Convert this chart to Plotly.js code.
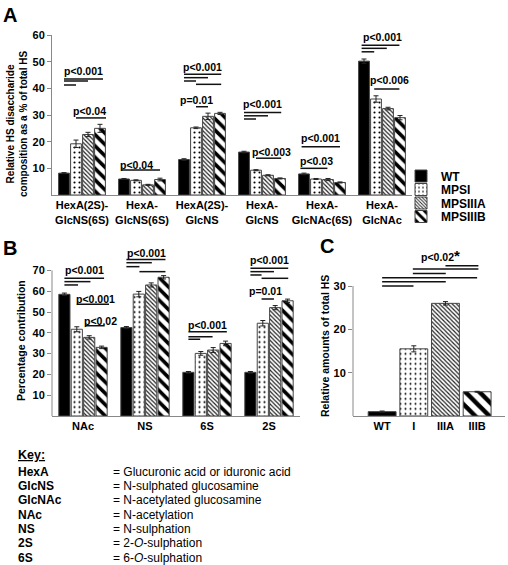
<!DOCTYPE html>
<html><head><meta charset="utf-8">
<script src="https://cdn.plot.ly/plotly-3.0.1.min.js"></script>
<style>html,body{margin:0;padding:0;background:#fff}#chart{width:508px;height:565px}</style>
</head><body><div id="chart"></div>
<script>
// ---------- DATA ----------
const seriesNames = ['WT', 'MPSI', 'MPSIIIA', 'MPSIIIB'];

const catsA = ['HexA(2S)-<br>GlcNS(6S)', 'HexA-<br>GlcNS(6S)', 'HexA(2S)-<br>GlcNS', 'HexA-<br>GlcNS', 'HexA-<br>GlcNAc(6S)', 'HexA-<br>GlcNAc'];
const wtA    = [8.2, 6.0, 13.3, 16.1, 7.9, 50.2];
const mpsiA  = [19.2, 5.5, 25.2, 9.3, 6.0, 36.0];
const iiiaA  = [22.7, 3.8, 29.5, 7.4, 5.8, 32.4];
const iiibA  = [25.0, 5.8, 30.6, 6.2, 4.7, 29.0];
const wtAErr   = [0.2, 0.2, 0.3, 0.3, 0.3, 0.8];
const mpsiAErr = [1.4, 0.2, 0.3, 0.2, 0.2, 1.2];
const iiiaAErr = [0.8, 0.2, 1.2, 0.2, 0.4, 0.5];
const iiibAErr = [1.5, 0.5, 0.4, 0.2, 0.2, 0.8];

const catsB = ['NAc', 'NS', '6S', '2S'];
const wtB    = [58.5, 42.5, 21.0, 21.0];
const mpsiB  = [41.7, 58.6, 30.1, 44.6];
const iiiaB  = [37.8, 63.0, 31.7, 52.1];
const iiibB  = [33.0, 66.7, 34.9, 55.4];
const wtBErr   = [0.6, 0.5, 0.4, 0.4];
const mpsiBErr = [1.2, 1.3, 0.9, 1.3];
const iiiaBErr = [0.8, 1.0, 1.2, 1.0];
const iiibBErr = [0.6, 0.8, 1.1, 0.8];

const catsC = ['WT', 'I', 'IIIA', 'IIIB'];
const valsC = [1.0, 15.5, 26.0, 5.6];
const errC  = [0.15, 0.7, 0.4, 0.1];

const ticksA = [10, 20, 30, 40, 50, 60];
const ticksB = [10, 20, 30, 40, 50, 60, 70];
const ticksC = [10, 20, 30];

const keyTerms = ['HexA', 'GlcNS', 'GlcNAc', 'NAc', 'NS', '2S', '6S'];
const keyDefs = ['= Glucuronic acid or iduronic acid', '= N-sulphated glucosamine', '= N-acetylated glucosamine',
  '= N-acetylation', '= N-sulphation', '= 2-<i>O</i>-sulphation', '= 6-<i>O</i>-sulphation'];

// significance brackets: [group, fromBar, toBar, level]
const sigA = [[0,0,3.25,43.5],[0,0,2,42.75],[0,0,1,41.25],[0,1,3.5,28.9],
  [1,-0.2,3.0,9.4],
  [2,0,3.1,45.3],[2,0,2,44.0],[2,0,1,42.75],[2,1,3.1,41.5],[2,1,2,33.1],
  [3,0,3.1,30.9],[3,0,2,29.7],[3,0,1,28.5],[3,1,3.1,13.8],
  [4,-0.2,3.0,18.1],[4,-0.3,1.95,10.0],
  [5,-0.2,2.95,56.2],[5,-0.2,1.9,55.0],[5,-0.2,0.85,53.7],[5,0.85,2.95,39.75]];
const sigTextA = [['p<0.001',0.02,46.5],['p<0.04',0.13,31.5],['p<0.04',0.91,11.3],['p<0.001',2.0,48.1],['p=0.01',1.91,35.6],
  ['p<0.001',3.0,34.1],['p<0.003',3.16,16.2],['p<0.001',3.98,21.5],['p<0.03',3.91,12.9],['p<0.001',5.01,59.4],['p<0.006',5.12,43.1]];
const sigB = [[0,0,3.2,66.2],[0,0,2.1,64.6],[0,0,1.1,63.0],[0,1,3.6,53.7],[0,1.7,3.25,43.4],
  [1,0,3.15,75.3],[1,0,2.05,73.7],[1,0,1.05,71.8],[1,1.05,3.15,69.4],
  [2,0,3.1,40.5],[2,0,1.95,38.1],[2,0,0.95,36.9],
  [3,0,3.05,71.0],[3,0,1.9,69.4],[3,0,0.9,67.8],[3,0.9,3.05,66.2],[3,0.9,1.9,56.25]];
const sigTextB = [['p<0.001',0.02,70.2],['p<0.001',0.2,56.1],['p<0.02',0.29,45.8],['p<0.001',1.02,78.2],
  ['p<0.001',2.01,43.75],['p<0.001',3.0,75.0],['p=0.01',2.95,60.2]];
const sigC = [[2,3.04,34.7],[0.97,3.04,33.9],[0.97,2.01,32.9],[0,3.0,31.9],[0,2.01,31.0],[0,0.99,30.0]];
const sigTextC = [['p<0.02<span style="font-size:15px">*</span>',1.85,37.1]];

// ---------- STYLE / LAYOUT ----------
const W = 508, H = 565;
const px = x => x / W, py = y => 1 - y / H;
const FONT = 'Arial, "Liberation Sans", sans-serif';
const AX = '#888';
const LINE = '#111';

const patterns = [
  {shape: ''},
  {shape: '.', fgcolor: 'black', bgcolor: 'white', size: 5, solidity: 0.14},
  {shape: '\\', fgcolor: '#222', bgcolor: 'white', size: 3, solidity: 0.4},
  {shape: '\\', fgcolor: 'black', bgcolor: 'white', size: 8, solidity: 0.45}
];
const patternsC = [
  {shape: ''},
  {shape: '.', fgcolor: 'black', bgcolor: 'white', size: 5, solidity: 0.12},
  {shape: '\\', fgcolor: '#222', bgcolor: 'white', size: 3, solidity: 0.4},
  {shape: '\\', fgcolor: 'black', bgcolor: 'white', size: 10, solidity: 0.45}
];
const colors = ['black', 'white', 'white', 'white'];
const legendIds = ['legend', 'legend2', 'legend3', 'legend4'];

function barTrace(name, i, x, y, err, xa, ya, show) {
  return {
    type: 'bar', name: name, x: x, y: y, xaxis: xa, yaxis: ya, showlegend: show, legendgroup: name,
    legend: legendIds[i],
    marker: {color: colors[i], pattern: patterns[i], line: {color: '#444', width: 1}},
    error_y: {type: 'data', array: err, visible: true, color: '#222', thickness: 1, width: 2.5},
    hoverinfo: 'skip'
  };
}

const dataA = [wtA, mpsiA, iiiaA, iiibA], errA = [wtAErr, mpsiAErr, iiiaAErr, iiibAErr];
const dataB = [wtB, mpsiB, iiiaB, iiibB], errB = [wtBErr, mpsiBErr, iiiaBErr, iiibBErr];
const traces = [];
seriesNames.forEach((n, i) => traces.push(barTrace(n, i, catsA, dataA[i], errA[i], 'x', 'y', true)));
seriesNames.forEach((n, i) => traces.push(barTrace(n, i, catsB, dataB[i], errB[i], 'x2', 'y2', false)));
catsC.forEach((c, i) => traces.push({
  type: 'bar', name: c, x: [c], y: [valsC[i]], xaxis: 'x3', yaxis: 'y3', showlegend: false, width: 0.88,
  offsetgroup: 'c',
  marker: {color: colors[i], pattern: patternsC[i], line: {color: '#444', width: 1}},
  error_y: {type: 'data', array: [errC[i]], visible: true, color: '#222', thickness: 1, width: 2.5},
  hoverinfo: 'skip'
}));

const tickFont = {family: FONT, size: 11, color: 'black', weight: 'bold'};
function xAx(dom, anchor, extra) {
  return Object.assign({domain: dom, anchor: anchor, type: 'category', showline: true, linecolor: AX, linewidth: 1,
    ticks: '', showgrid: false, zeroline: false, tickfont: tickFont, fixedrange: true}, extra || {});
}
function yAx(dom, anchor, range, tv, line) {
  return {domain: dom, anchor: anchor, range: range, tickvals: tv, ticks: 'outside', ticklen: 4, tickcolor: AX,
    showline: line, linecolor: AX, linewidth: 1, showgrid: false, zeroline: false, tickfont: tickFont, fixedrange: true};
}

const shapes = [];
const annotations = [];
const slot = 0.2;
const barX = (g, b) => g + (b - 1.5) * slot;
function addSig(list, xr, yr, conv) {
  list.forEach(s => {
    const [x0, x1, y] = conv(s);
    shapes.push({type: 'line', xref: xr, yref: yr, x0: x0, x1: x1, y0: y, y1: y, line: {color: LINE, width: 1.5}});
  });
}
addSig(sigA, 'x', 'y', s => [barX(s[0], s[1]), barX(s[0], s[2]), s[3]]);
addSig(sigB, 'x2', 'y2', s => [barX(s[0], s[1]), barX(s[0], s[2]), s[3]]);
addSig(sigC, 'x3', 'y3', s => [s[0], s[1], s[2]]);
function addSigText(list, xr, yr) {
  list.forEach(t => annotations.push({text: t[0], x: t[1], y: t[2], xref: xr, yref: yr, showarrow: false,
    xanchor: 'center', yanchor: 'middle',
    font: {family: FONT, size: 10.5, color: 'black', weight: 'bold'}}));
}
addSigText(sigTextA, 'x', 'y');
addSigText(sigTextB, 'x2', 'y2');
addSigText(sigTextC, 'x3', 'y3');

// partial y-axis lines for B and C
shapes.push({type: 'line', xref: 'x2 domain', yref: 'y2', x0: 0, x1: 0, y0: 0, y1: 70, line: {color: AX, width: 1}});
shapes.push({type: 'line', xref: 'x3 domain', yref: 'y3', x0: 0, x1: 0, y0: 0, y1: 30, line: {color: AX, width: 1}});

function paperText(text, x, y, font, opts) {
  annotations.push(Object.assign({text: text, x: px(x), y: py(y), xref: 'paper', yref: 'paper', showarrow: false,
    xanchor: 'center', yanchor: 'middle', font: font}, opts || {}));
}
const bfont = s => ({family: FONT, size: s, color: 'black', weight: 'bold'});
const nfont = s => ({family: FONT, size: s, color: 'black'});
// panel letters
paperText('A', 10, 15, bfont(20));
paperText('B', 10, 248, bfont(20));
paperText('C', 327, 246, bfont(20));
// axis titles
paperText('Relative HS disaccharide<br>composition as a % of total HS', 17, 124, bfont(10), {textangle: -90});
paperText('Percentage contribution', 21, 341, bfont(10.5), {textangle: -90});
paperText('Relative amounts of total HS', 325, 346, bfont(10.5), {textangle: -90});
// key
paperText('<u>Key:</u>', 16, 455, bfont(12.5), {xanchor: 'left'});
keyTerms.forEach((t, i) => {
  const y = 471.7 + i * 14.33;
  paperText(t, 16, y, bfont(12), {xanchor: 'left'});
  paperText(keyDefs[i], 111, y, nfont(12), {xanchor: 'left'});
});

const layout = {
  width: W, height: H, margin: {l: 0, r: 0, t: 0, b: 0},
  paper_bgcolor: 'white', plot_bgcolor: 'rgba(0,0,0,0)',
  font: {family: FONT, color: 'black'},
  barmode: 'group', bargap: 0.2, bargroupgap: 0.1,
  xaxis: xAx([px(52), px(412)], 'y'),
  yaxis: yAx([py(195), py(35)], 'x', [0, 60], ticksA, true),
  xaxis2: xAx([px(52), px(300)], 'y2'),
  yaxis2: yAx([py(416), py(249.6)], 'x2', [0, 80], ticksB, false),
  xaxis3: xAx([px(353), px(505)], 'y3', {range: [-0.92, 3.88]}),
  yaxis3: yAx([py(416), py(416 - 38 * 4.333)], 'x3', [0, 38], ticksC, false),
  shapes: shapes, annotations: annotations
};
const legendCenters = [176, 189.5, 203, 216.5];
legendIds.forEach((id, i) => {
  layout[id] = {x: px(401), y: py(legendCenters[i]), xanchor: 'left', yanchor: 'middle', bgcolor: 'rgba(0,0,0,0)',
    font: {family: FONT, size: 12, color: 'black', weight: 'bold'}, itemwidth: 30};
});

Plotly.newPlot('chart', traces, layout, {displayModeBar: false, staticPlot: true});
</script></body></html>
